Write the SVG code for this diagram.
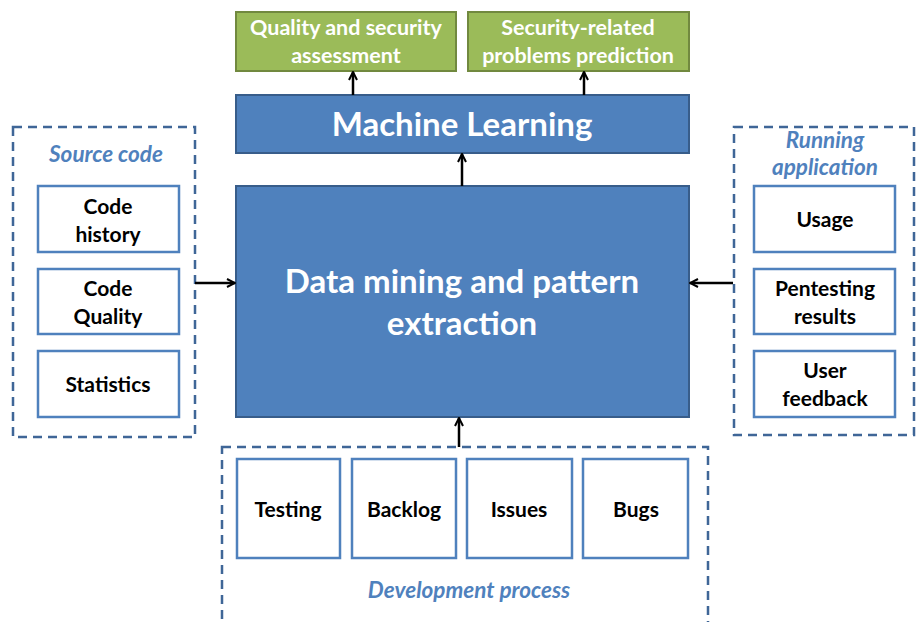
<svg xmlns="http://www.w3.org/2000/svg" width="917" height="622" viewBox="0 0 917 622">
<defs>
<marker id="ah" viewBox="0 0 10 10" refX="9" refY="5" markerWidth="10" markerHeight="10" markerUnits="userSpaceOnUse" orient="auto">
<path d="M1,1 L9,5 L1,9" fill="none" stroke="#000" stroke-width="2"/>
</marker>
<style>
text{font-family:Lato,"Open Sans","Liberation Sans",sans-serif;font-weight:bold;text-anchor:middle}
.green{fill:#9BBB59;stroke:#71893F;stroke-width:2}
.blue{fill:#4F81BD;stroke:#385D8A;stroke-width:2}
.item{fill:#fff;stroke:#4F81BD;stroke-width:2.5}
.group{fill:none;stroke:#3F6697;stroke-width:2.5;stroke-dasharray:9,6}
.wt{fill:#fff;font-size:21.5px}
.big{fill:#fff;font-size:33px}
.bt{fill:#000;font-size:21px}
.it{fill:#4F81BD;font-size:22.5px;font-style:italic}
.conn{stroke:#000;stroke-width:2.5;fill:none;marker-end:url(#ah)}
</style>
</defs>
<rect width="917" height="622" fill="#fff"/>
<g id="g-source">
<rect class="group" x="13" y="127" width="182" height="310"/>
<text class="it" x="106" y="162">Source code</text>
</g>
<g id="g-running">
<rect class="group" x="734" y="127" width="180" height="308"/>
<text class="it" x="825" y="148">Running</text>
<text class="it" x="825" y="175">application</text>
</g>
<g id="g-dev">
<rect class="group" x="222" y="447" width="486" height="185"/>
<text class="it" x="469" y="598">Development process</text>
</g>
<g id="quality">
<rect class="green" x="236" y="12" width="220" height="59"/>
<text class="wt" x="346" y="35">Quality and security</text>
<text class="wt" x="346" y="63">assessment</text>
</g>
<g id="security">
<rect class="green" x="468" y="12" width="221" height="59"/>
<text class="wt" x="578" y="35">Security-related</text>
<text class="wt" x="578" y="63">problems prediction</text>
</g>
<g id="ml">
<rect class="blue" x="236" y="95" width="453" height="58"/>
<text class="big" x="462" y="136">Machine Learning</text>
</g>
<g id="dm">
<rect class="blue" x="236" y="186" width="453" height="231"/>
<text class="big" x="462" y="293">Data mining and pattern</text>
<text class="big" x="462" y="335">extraction</text>
</g>
<g id="code-history">
<rect class="item" x="38" y="186" width="141" height="66"/>
<text class="bt" x="108" y="214">Code</text>
<text class="bt" x="108" y="242">history</text>
</g>
<g id="code-quality">
<rect class="item" x="38" y="269" width="141" height="65"/>
<text class="bt" x="108" y="296">Code</text>
<text class="bt" x="108" y="324">Quality</text>
</g>
<g id="statistics">
<rect class="item" x="38" y="351" width="141" height="66"/>
<text class="bt" x="108" y="392">Statistics</text>
</g>
<g id="usage">
<rect class="item" x="754" y="186" width="141" height="66"/>
<text class="bt" x="825" y="227">Usage</text>
</g>
<g id="pentesting">
<rect class="item" x="754" y="269" width="141" height="65"/>
<text class="bt" x="825" y="296">Pentesting</text>
<text class="bt" x="825" y="324">results</text>
</g>
<g id="feedback">
<rect class="item" x="754" y="351" width="141" height="66"/>
<text class="bt" x="825" y="378">User</text>
<text class="bt" x="825" y="406">feedback</text>
</g>
<g id="testing">
<rect class="item" x="237" y="459" width="103" height="99"/>
<text class="bt" x="288" y="517">Testing</text>
</g>
<g id="backlog">
<rect class="item" x="352" y="459" width="104" height="99"/>
<text class="bt" x="404" y="517">Backlog</text>
</g>
<g id="issues">
<rect class="item" x="467" y="459" width="105" height="99"/>
<text class="bt" x="519" y="517">Issues</text>
</g>
<g id="bugs">
<rect class="item" x="583" y="459" width="105" height="99"/>
<text class="bt" x="636" y="517">Bugs</text>
</g>
<g id="connectors">
<line class="conn" x1="353" y1="95" x2="353" y2="72"/>
<line class="conn" x1="584" y1="95" x2="584" y2="72"/>
<line class="conn" x1="462" y1="186" x2="462" y2="154"/>
<line class="conn" x1="195" y1="283" x2="235" y2="283"/>
<line class="conn" x1="733" y1="283" x2="690" y2="283"/>
<line class="conn" x1="459" y1="447" x2="459" y2="418"/>
</g>
</svg>
